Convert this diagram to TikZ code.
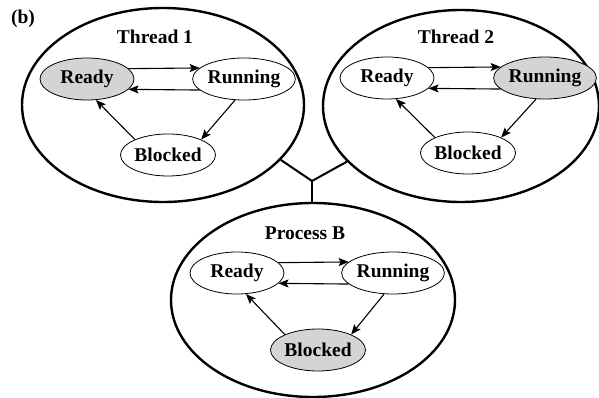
\documentclass[tikz,border=0pt]{standalone}
\usepackage{fontspec}
\setmainfont{Liberation Serif}
\usetikzlibrary{shapes.geometric,arrows.meta,calc}
\definecolor{shade}{RGB}{212,212,212}
\begin{document}
\begin{tikzpicture}[x=1pt,y=-1pt,
  every node/.style={font=\fontsize{19.5}{22}\selectfont\bfseries},
  group/.style={ellipse,draw,line width=2.4pt,inner sep=0pt},
  state/.style={ellipse,draw,line width=0.8pt,inner sep=0pt,minimum width=94pt,minimum height=42pt},
  active/.style={state,fill=shade},
  arr/.style={line width=1.1pt,-{Stealth[length=10pt,width=8pt,inset=2pt]}},
  link/.style={line width=2pt}]
\useasboundingbox (0,0) rectangle (599,398);
% group ellipses
\node[group,minimum width=282pt,minimum height=194pt] (t1) at (163,105) {};
\node[group,minimum width=276pt,minimum height=192pt] (t2) at (461,106) {};
\node[group,minimum width=284pt,minimum height=194pt] (pb) at (313,300) {};
% labels
\node (lb) at (23,19) {(b)};
\node (lt1) at (155,37) {Thread 1};
\node (lt2) at (456,37) {Thread 2};
\node (lpb) at (305,233) {Process B};
% Thread 1
\node[active] (ra1) at (87,79) {Ready};
\node[state] (ru1) at (244,79) {Running};
\node[state] (bl1) at (168,155) {Blocked};
% Thread 2
\node[state] (ra2) at (387,78) {Ready};
\node[active] (ru2) at (545,78) {Running};
\node[state] (bl2) at (468,153) {Blocked};
% Process B
\node[state] (ra3) at (237,273) {Ready};
\node[state] (ru3) at (393,273) {Running};
\node[active] (bl3) at (318,350) {Blocked};
% transitions
\foreach \i in {1,2,3}{
  \draw[arr] (ra\i.14) -- (ru\i.166);
  \draw[arr] (ru\i.194) -- (ra\i.-14);
  \draw[arr] (ru\i.247) -- (bl\i.25);
  \draw[arr] (bl\i.155) -- (ra\i.293);
}
% connector
\coordinate (J) at (312,181);
\draw[link] (t1.-25) -- (J) -- (t2.206);
\draw[link] (J) -- (J |- pb.north);
\end{tikzpicture}
\end{document}
